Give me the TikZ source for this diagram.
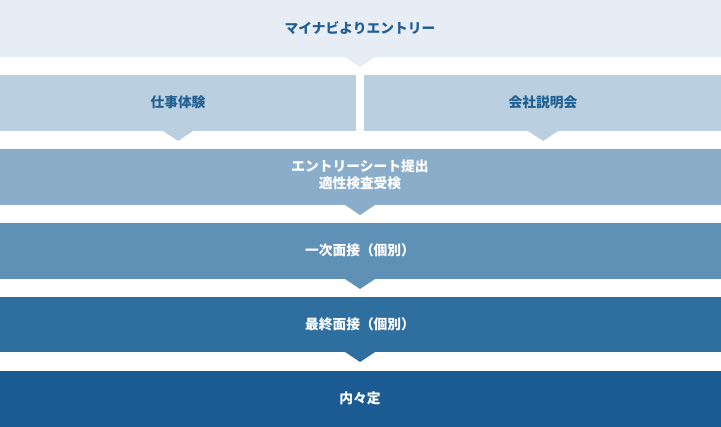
\documentclass[tikz,border=0pt]{standalone}
\usepackage{fontspec}
\newfontfamily\jpfont{Noto Sans CJK JP}
\definecolor{stepA}{HTML}{E6EDF4}
\definecolor{stepB}{HTML}{BACFE0}
\definecolor{stepC}{HTML}{8AAEC9}
\definecolor{stepD}{HTML}{5F91B6}
\definecolor{stepE}{HTML}{2F6F9F}
\definecolor{stepF}{HTML}{1B5B91}
\definecolor{darktext}{HTML}{215F91}
\begin{document}
\begin{tikzpicture}[x=0.75pt,y=-0.75pt,
    lbl/.style={font=\jpfont\bfseries\fontsize{10.3}{12.75}\selectfont, align=center},
    darklbl/.style={lbl, text=darktext},
    lightlbl/.style={lbl, text=white}]
    \useasboundingbox (0,0) rectangle (721,427);
    % entry
    \fill[stepA] (0,0) rectangle (721,57);
    \fill[stepA] (345,57) -- (375,57) -- (360,67) -- cycle;
    \node[darklbl] (entry) at (360,28) {マイナビよりエントリー};
    % two ways
    \fill[stepB] (0,75) rectangle (356,131);
    \fill[stepB] (163,131) -- (193,131) -- (178,141) -- cycle;
    \node[darklbl] (work) at (178,102) {仕事体験};
    \fill[stepB] (364,75) rectangle (721,131);
    \fill[stepB] (528,131) -- (558,131) -- (543,141) -- cycle;
    \node[darklbl] (seminar) at (543,102) {会社説明会};
    % sheet and test
    \fill[stepC] (0,149) rectangle (721,205);
    \fill[stepC] (345,205) -- (375,205) -- (360,215) -- cycle;
    \node[lightlbl] (sheet) at (360,175) {エントリーシート提出\\適性検査受検};
    % interviews
    \fill[stepD] (0,223) rectangle (721,279);
    \fill[stepD] (345,279) -- (375,279) -- (360,289) -- cycle;
    \node[lightlbl] (first) at (360,250) {一次面接（個別）};
    \fill[stepE] (0,297) rectangle (721,352);
    \fill[stepE] (345,352) -- (375,352) -- (360,362) -- cycle;
    \node[lightlbl] (final) at (360,324) {最終面接（個別）};
    % offer
    \fill[stepF] (0,371) rectangle (721,427);
    \node[lightlbl] (offer) at (360,398) {内々定};
\end{tikzpicture}
\end{document}
